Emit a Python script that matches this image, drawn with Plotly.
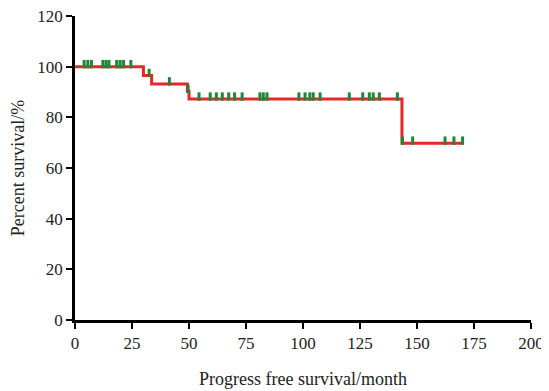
import plotly.graph_objects as go

# Kaplan-Meier step curve (months, percent survival)
step_time = [0, 30.0, 33.6, 49.3, 50.0, 143.4, 170.3]
step_surv = [100, 96.5, 93.2, 90.3, 87.2, 69.8, 69.8]

# Censored observations (months, percent survival at that time)
cens_time = [4.0, 5.6, 7.2, 12.2, 13.6, 14.9, 18.3, 19.8, 21.3, 24.5,
             32.5, 41.4, 49.6,
             54.4, 59.3, 62.0, 64.6, 67.4, 70.0, 73.3,
             81.1, 82.6, 84.2, 98.2, 100.9, 103.0, 104.5, 107.5, 120.3,
             126.2, 129.1, 130.8, 133.5, 141.4,
             143.6, 148.1, 162.3, 166.2, 170.0]
cens_surv = [100] * 10 + [96.5, 93.2, 90.3] + [87.2] * 21 + [69.8] * 5

x_ticks = [0, 25, 50, 75, 100, 125, 150, 175, 200]
y_ticks = [0, 20, 40, 60, 80, 100, 120]

RED = "#e8262a"
GREEN = "#1f8636"
FONT = "Liberation Serif"

mark_lift = 1.0  # lift censor ticks just above the line (data units)

fig = go.Figure()
fig.add_trace(go.Scatter(
    x=step_time, y=step_surv, mode="lines",
    line=dict(color=RED, width=3, shape="hv"),
    showlegend=False, hoverinfo="skip"))
fig.add_trace(go.Scatter(
    x=cens_time, y=[v + mark_lift for v in cens_surv], mode="markers",
    marker=dict(symbol="line-ns", size=6, color=GREEN,
                line=dict(color=GREEN, width=3)),
    showlegend=False))

axis_common = dict(
    showline=True, linecolor="black", linewidth=2.5,
    ticks="outside", ticklen=6, tickwidth=2, tickcolor="black",
    showgrid=False, zeroline=False, automargin=False,
    ticklabeloverflow="allow",
    tickfont=dict(family=FONT, size=17, color="#222"),
)

# page body has an 8px default margin, so the figure is offset by 8px
fig.update_layout(
    width=541, height=383,
    margin=dict(l=67, r=18, t=8, b=71),
    paper_bgcolor="white", plot_bgcolor="white",
    xaxis=dict(range=[0, 200], tickvals=x_ticks,
               title=dict(text="Progress free survival/month",
                          font=dict(family=FONT, size=18, color="#222"),
                          standoff=21),
               **axis_common),
    yaxis=dict(range=[0, 120], tickvals=y_ticks,
               title=dict(text="Percent survival/%",
                          font=dict(family=FONT, size=18, color="#222"),
                          standoff=10),
               **axis_common),
)

fig.write_html("out.html")
